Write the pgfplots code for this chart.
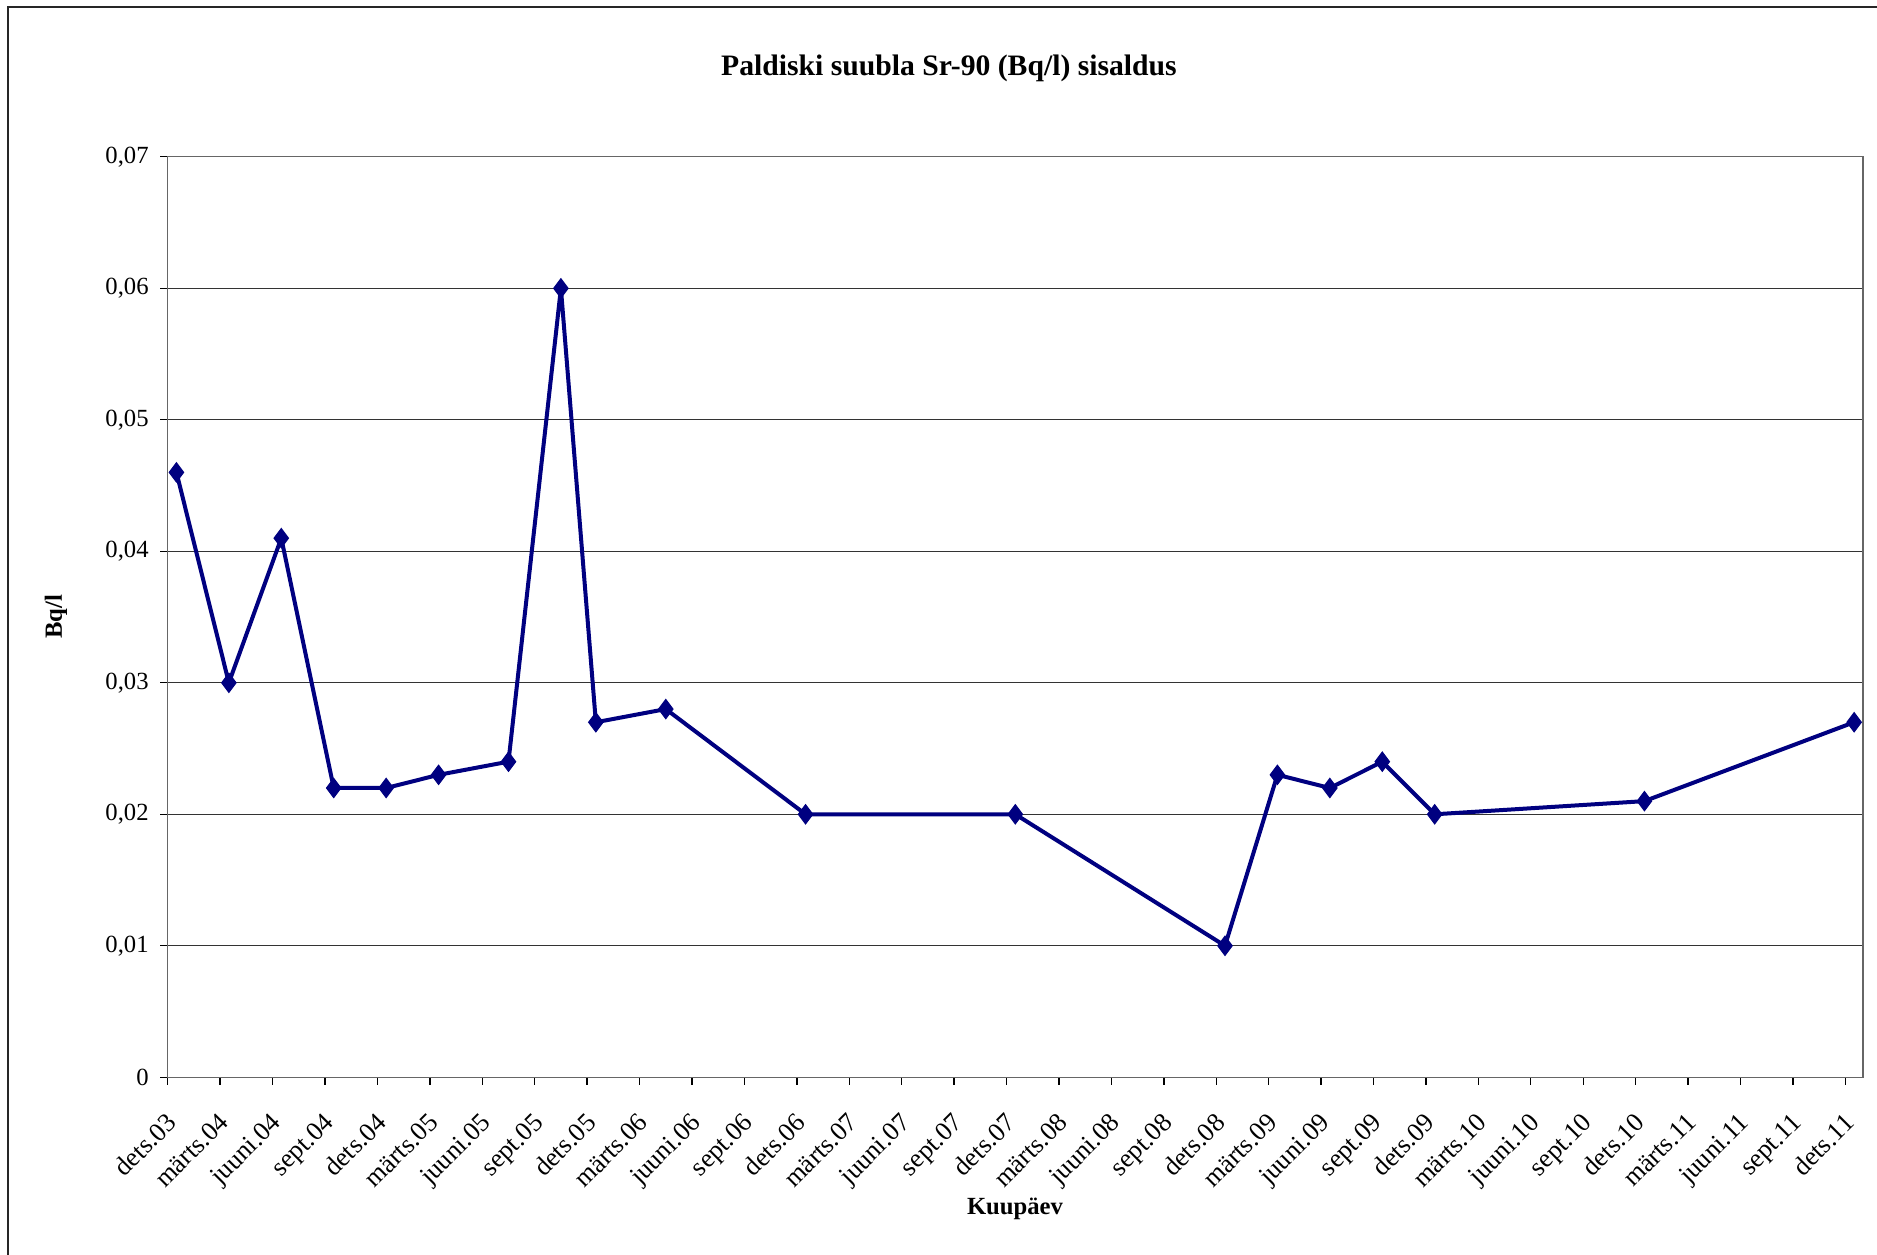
\documentclass[border=0pt]{standalone}
\usepackage{fontspec}
\setmainfont{Liberation Serif}
\usepackage{pgfplots}
\pgfplotsset{compat=1.18}
\definecolor{navyline}{RGB}{0,0,128}
\begin{document}
\begin{tikzpicture}
\useasboundingbox (0,0) rectangle (563.1pt,376.5pt);
\fill[white] (0,0) rectangle (563.1pt,376.5pt);
\draw[line width=0.5pt, black!85] (2.4pt,-10pt) -- (2.4pt,374.3pt) -- (620pt,374.3pt);
\begin{axis}[
  at={(50.31pt,53.31pt)}, anchor=south west,
  width=508.56pt, height=276.15pt, scale only axis,
  xmin=0, xmax=97, ymin=0, ymax=0.07,
  scaled y ticks=false,
  axis line style={black!60, line width=0.4pt},
  xtick={0,3,...,96},
  xticklabels={dets.03,märts.04,juuni.04,sept.04,dets.04,märts.05,juuni.05,sept.05,dets.05,märts.06,juuni.06,sept.06,dets.06,märts.07,juuni.07,sept.07,dets.07,märts.08,juuni.08,sept.08,dets.08,märts.09,juuni.09,sept.09,dets.09,märts.10,juuni.10,sept.10,dets.10,märts.11,juuni.11,sept.11,dets.11},
  ytick={0,0.01,0.02,0.03,0.04,0.05,0.06,0.07},
  yticklabels={{0},{0,01},{0,02},{0,03},{0,04},{0,05},{0,06},{0,07}},
  tick align=outside, major tick length=2.2pt,
  tick style={black, line width=0.4pt},
  xtick pos=bottom, ytick pos=left,
  ymajorgrids, grid style={black!80, line width=0.35pt},
  xticklabel style={xshift=-0.8pt, yshift=-7.8pt, rotate=45, anchor=north east, font=\fontsize{7.9}{9}\selectfont, inner sep=0pt},
  yticklabel style={font=\fontsize{7.4}{8}\selectfont},
  /pgf/number format/assume math mode=true,
  clip=false,
]
\addplot[navyline, line width=1.2pt, mark=diamond*, mark size=2.9pt, mark options={fill=navyline, draw=navyline, line width=0.3pt}] coordinates {
(0.5,0.046) (3.5,0.030) (6.5,0.041) (9.5,0.022) (12.5,0.022) (15.5,0.023)
(19.5,0.024) (22.5,0.060) (24.5,0.027) (28.5,0.028) (36.5,0.020) (48.5,0.020)
(60.5,0.010) (63.5,0.023) (66.5,0.022) (69.5,0.024) (72.5,0.020) (84.5,0.021)
(96.5,0.027)
};
\end{axis}
\node[font=\bfseries\fontsize{8.9}{10}\selectfont] at (284.7pt,356.1pt) {Paldiski suubla Sr-90 (Bq/l) sisaldus};
\node[font=\bfseries\fontsize{7.4}{8}\selectfont] at (304.5pt,13.8pt) {Kuupäev};
\node[font=\bfseries\fontsize{7.4}{8}\selectfont, rotate=90] at (16.8pt,191.5pt) {Bq/l};
\end{tikzpicture}
\end{document}
